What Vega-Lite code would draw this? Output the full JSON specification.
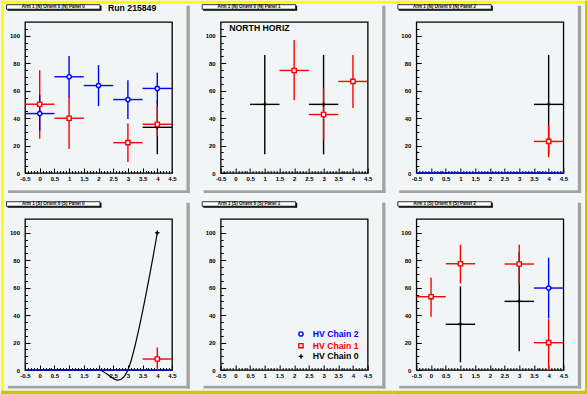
{
"$schema":"https://vega.github.io/schema/vega-lite/v6.json",
"background":"#f1f5f5",
"padding":0,
"autosize":{"type":"pad"},
"bounds":"flush",
"columns":3,
"spacing":{"row":46,"column":48.67},
"datasets":{
"pts":[
{"p":1,"c":0,"x":4,"y":33.3,"lo":13.6,"hi":53,"xl":3.5,"xh":4.5},
{"p":1,"c":1,"x":0,"y":50.1,"lo":25,"hi":74.9,"xl":-0.5,"xh":0.5},
{"p":1,"c":1,"x":1,"y":39.9,"lo":17.5,"hi":55.5,"xl":0.5,"xh":1.5},
{"p":1,"c":1,"x":3,"y":22.1,"lo":8,"hi":36,"xl":2.5,"xh":3.5},
{"p":1,"c":1,"x":4,"y":35.5,"lo":27,"hi":48.7,"xl":3.5,"xh":4.5},
{"p":1,"c":2,"x":0,"y":43.3,"lo":30.7,"hi":56.7,"xl":-0.5,"xh":0.5},
{"p":1,"c":2,"x":1,"y":70.1,"lo":55,"hi":85.2,"xl":0.5,"xh":1.5},
{"p":1,"c":2,"x":2,"y":63.7,"lo":48.7,"hi":78.6,"xl":1.5,"xh":2.5},
{"p":1,"c":2,"x":3,"y":53.5,"lo":39.4,"hi":67.6,"xl":2.5,"xh":3.5},
{"p":1,"c":2,"x":4,"y":61.6,"lo":50.6,"hi":73,"xl":3.5,"xh":4.5},
{"p":2,"c":0,"x":1,"y":50,"lo":13.6,"hi":86,"xl":0.5,"xh":1.5},
{"p":2,"c":0,"x":3,"y":50,"lo":13.6,"hi":86,"xl":2.5,"xh":3.5},
{"p":2,"c":1,"x":2,"y":74.7,"lo":53,"hi":96.8,"xl":1.5,"xh":2.5},
{"p":2,"c":1,"x":3,"y":42.6,"lo":23.8,"hi":61.6,"xl":2.5,"xh":3.5},
{"p":2,"c":1,"x":4,"y":66.7,"lo":47.4,"hi":85.9,"xl":3.5,"xh":4.5},
{"p":3,"c":0,"x":4,"y":50,"lo":13.6,"hi":86,"xl":3.5,"xh":4.5},
{"p":3,"c":1,"x":4,"y":23,"lo":11.4,"hi":35,"xl":3.5,"xh":4.5},
{"p":3,"c":2,"x":0,"y":0,"lo":0,"hi":0,"xl":-0.5,"xh":0.5},
{"p":3,"c":2,"x":1,"y":0,"lo":0,"hi":0,"xl":0.5,"xh":1.5},
{"p":3,"c":2,"x":2,"y":0,"lo":0,"hi":0,"xl":1.5,"xh":2.5},
{"p":3,"c":2,"x":3,"y":0,"lo":0,"hi":0,"xl":2.5,"xh":3.5},
{"p":3,"c":2,"x":4,"y":0,"lo":0,"hi":0,"xl":3.5,"xh":4.5},
{"p":4,"c":0,"x":4,"y":100,"lo":100,"hi":100,"xl":4,"xh":4},
{"p":4,"c":1,"x":4,"y":8,"lo":0,"hi":16.3,"xl":3.5,"xh":4.5},
{"p":4,"c":2,"x":0,"y":0,"lo":0,"hi":0,"xl":-0.5,"xh":0.5},
{"p":4,"c":2,"x":1,"y":0,"lo":0,"hi":0,"xl":0.5,"xh":1.5},
{"p":4,"c":2,"x":2,"y":0,"lo":0,"hi":0,"xl":1.5,"xh":2.5},
{"p":4,"c":2,"x":3,"y":0,"lo":0,"hi":0,"xl":2.5,"xh":3.5},
{"p":4,"c":2,"x":4,"y":0,"lo":0,"hi":0,"xl":3.5,"xh":4.5},
{"p":6,"c":0,"x":1,"y":33.3,"lo":5.6,"hi":61,"xl":0.5,"xh":1.5},
{"p":6,"c":0,"x":3,"y":50,"lo":13.6,"hi":86,"xl":2.5,"xh":3.5},
{"p":6,"c":1,"x":0,"y":53.4,"lo":38.8,"hi":67.2,"xl":-0.5,"xh":0.5},
{"p":6,"c":1,"x":1,"y":77.4,"lo":63.1,"hi":91.3,"xl":0.5,"xh":1.5},
{"p":6,"c":1,"x":3,"y":77.2,"lo":63.1,"hi":91.3,"xl":2.5,"xh":3.5},
{"p":6,"c":1,"x":4,"y":19.9,"lo":0,"hi":37.1,"xl":3.5,"xh":4.5},
{"p":6,"c":2,"x":4,"y":59.7,"lo":37.5,"hi":81.8,"xl":3.5,"xh":4.5}
],
"curve":[{"x":0,"y":0},{"x":1,"y":0},{"x":2,"y":0},{"x":3,"y":0},{"x":4,"y":100}]
},
"concat":[
{"width":147,"height":151,"layer":[
{"data":{"values":[{}]},"mark":{"type":"rect","color":"#a3a3a3"},"encoding":{"x":{"datum":4.993,"type":"quantitative","scale":{"domain":[-0.5,4.5],"nice":false,"zero":false},"axis":{"title":null,"domain":false,"grid":false,"tickCount":1000,"values":[-0.5,-0.4,-0.3,-0.2,-0.1,0,0.1,0.2,0.3,0.4,0.5,0.6,0.7,0.8,0.9,1,1.1,1.2,1.3,1.4,1.5,1.6,1.7,1.8,1.9,2,2.1,2.2,2.3,2.4,2.5,2.6,2.7,2.8,2.9,3,3.1,3.2,3.3,3.4,3.5,3.6,3.7,3.8,3.9,4,4.1,4.2,4.3,4.4,4.5],"labelExpr":"abs(datum.value*2-round(datum.value*2))<0.001 ? ''+datum.value : ''","tickSize":{"condition":{"test":"abs(datum.value*2-round(datum.value*2))<0.001","value":-5},"value":-2.5},"labelPadding":7.5,"labelOverlap":false,"labelFlush":false,"labelBound":false}},"x2":{"datum":5.105},"y":{"datum":121.87,"type":"quantitative","scale":{"domain":[0,110],"nice":false,"zero":false},"axis":{"title":null,"domain":false,"grid":false,"tickCount":1000,"values":[0,5,10,15,20,25,30,35,40,45,50,55,60,65,70,75,80,85,90,95,100,105],"labelExpr":"datum.value%20===0 ? ''+datum.value : ''","tickSize":{"condition":{"test":"datum.value%20===0","value":-5},"value":-2.5},"labelPadding":10.5,"labelOverlap":false,"labelFlush":false,"labelBound":false}},"y2":{"datum":-14.57}}},
{"data":{"values":[{}]},"mark":{"type":"rect","color":"#a3a3a3"},"encoding":{"x":{"datum":-1.078},"x2":{"datum":5.105},"y":{"datum":-12.53},"y2":{"datum":-14.57}}},
{"data":{"values":[{}]},"mark":{"type":"rect","color":"#ffff00"},"encoding":{"x":{"datum":-1.3163},"x2":{"datum":5.339},"y":{"datum":125.516},"y2":{"datum":123.331}}},
{"data":{"values":[{}]},"mark":{"type":"rect","color":"#ffff00"},"encoding":{"x":{"datum":-1.3163},"x2":{"datum":-1.2143},"y":{"datum":125.516},"y2":{"datum":-17.99}}},
{"data":{"values":[{}]},"mark":{"type":"rect","color":"#000000"},"encoding":{"x":{"datum":-1.095},"x2":{"datum":2.102},"y":{"datum":121.87},"y2":{"datum":118.23}}},
{"data":{"values":[{}]},"mark":{"type":"rect","fill":"#ffffff","stroke":"#000000","strokeWidth":0.8},"encoding":{"x":{"datum":-1.129},"x2":{"datum":2.051},"y":{"datum":122.6},"y2":{"datum":119.32}}},
{"data":{"values":[{}]},"mark":{"type":"text","fontSize":4.5,"fontWeight":"bold","font":"Liberation Sans","align":"center","baseline":"middle","color":"#000000"},"encoding":{"x":{"datum":0.461},"y":{"datum":120.96},"text":{"value":"Arm 1 (N) Orient 0 (N) Panel 0"}}},
{"data":{"name":"pts"},"transform":[{"filter":"datum.p===1"}],"mark":{"type":"rule","strokeWidth":1.4},"encoding":{"x":{"field":"xl","type":"quantitative"},"x2":{"field":"xh"},"y":{"field":"y","type":"quantitative"},"color":{"field":"c","type":"ordinal","scale":{"domain":[0,1,2],"range":["#000000","#ff0000","#0000ff"]},"legend":null}}},
{"data":{"name":"pts"},"transform":[{"filter":"datum.p===1"}],"mark":{"type":"rule","strokeWidth":1.4},"encoding":{"x":{"field":"x","type":"quantitative"},"y":{"field":"lo","type":"quantitative"},"y2":{"field":"hi"},"color":{"field":"c","type":"ordinal","scale":{"domain":[0,1,2],"range":["#000000","#ff0000","#0000ff"]},"legend":null}}},
{"data":{"name":"pts"},"transform":[{"filter":"datum.p===1 && datum.y>0"}],"mark":{"type":"point","fill":"#f1f5f5","strokeWidth":1.4,"size":18,"opacity":1},"encoding":{"x":{"field":"x","type":"quantitative"},"y":{"field":"y","type":"quantitative"},"stroke":{"field":"c","type":"ordinal","scale":{"domain":[0,1,2],"range":["#000000","#ff0000","#0000ff"]},"legend":null},"shape":{"field":"c","type":"ordinal","scale":{"domain":[0,1,2],"range":["M-1,0H1M0,-1V1","square","circle"]},"legend":null}}},
{"data":{"values":[{}]},"mark":{"type":"text","fontSize":8.7,"fontWeight":"bold","font":"Liberation Sans","align":"left","baseline":"middle","color":"#000000"},"encoding":{"x":{"datum":2.323},"y":{"datum":120.05},"text":{"value":"Run 215849"}}}
]},
{"width":147,"height":151,"layer":[
{"data":{"values":[{}]},"mark":{"type":"rect","color":"#a3a3a3"},"encoding":{"x":{"datum":4.993,"type":"quantitative","scale":{"domain":[-0.5,4.5],"nice":false,"zero":false},"axis":{"title":null,"domain":false,"grid":false,"tickCount":1000,"values":[-0.5,-0.4,-0.3,-0.2,-0.1,0,0.1,0.2,0.3,0.4,0.5,0.6,0.7,0.8,0.9,1,1.1,1.2,1.3,1.4,1.5,1.6,1.7,1.8,1.9,2,2.1,2.2,2.3,2.4,2.5,2.6,2.7,2.8,2.9,3,3.1,3.2,3.3,3.4,3.5,3.6,3.7,3.8,3.9,4,4.1,4.2,4.3,4.4,4.5],"labelExpr":"abs(datum.value*2-round(datum.value*2))<0.001 ? ''+datum.value : ''","tickSize":{"condition":{"test":"abs(datum.value*2-round(datum.value*2))<0.001","value":-5},"value":-2.5},"labelPadding":7.5,"labelOverlap":false,"labelFlush":false,"labelBound":false}},"x2":{"datum":5.105},"y":{"datum":121.87,"type":"quantitative","scale":{"domain":[0,110],"nice":false,"zero":false},"axis":{"title":null,"domain":false,"grid":false,"tickCount":1000,"values":[0,5,10,15,20,25,30,35,40,45,50,55,60,65,70,75,80,85,90,95,100,105],"labelExpr":"datum.value%20===0 ? ''+datum.value : ''","tickSize":{"condition":{"test":"datum.value%20===0","value":-5},"value":-2.5},"labelPadding":10.5,"labelOverlap":false,"labelFlush":false,"labelBound":false}},"y2":{"datum":-14.57}}},
{"data":{"values":[{}]},"mark":{"type":"rect","color":"#a3a3a3"},"encoding":{"x":{"datum":-1.078},"x2":{"datum":5.105},"y":{"datum":-12.53},"y2":{"datum":-14.57}}},
{"data":{"values":[{}]},"mark":{"type":"rect","color":"#ffff00"},"encoding":{"x":{"datum":-1.3163},"x2":{"datum":5.339},"y":{"datum":125.516},"y2":{"datum":123.331}}},
{"data":{"values":[{}]},"mark":{"type":"rect","color":"#000000"},"encoding":{"x":{"datum":-1.095},"x2":{"datum":2.102},"y":{"datum":121.87},"y2":{"datum":118.23}}},
{"data":{"values":[{}]},"mark":{"type":"rect","fill":"#ffffff","stroke":"#000000","strokeWidth":0.8},"encoding":{"x":{"datum":-1.129},"x2":{"datum":2.051},"y":{"datum":122.6},"y2":{"datum":119.32}}},
{"data":{"values":[{}]},"mark":{"type":"text","fontSize":4.5,"fontWeight":"bold","font":"Liberation Sans","align":"center","baseline":"middle","color":"#000000"},"encoding":{"x":{"datum":0.461},"y":{"datum":120.96},"text":{"value":"Arm 1 (N) Orient 0 (N) Panel 1"}}},
{"data":{"name":"pts"},"transform":[{"filter":"datum.p===2"}],"mark":{"type":"rule","strokeWidth":1.4},"encoding":{"x":{"field":"xl","type":"quantitative"},"x2":{"field":"xh"},"y":{"field":"y","type":"quantitative"},"color":{"field":"c","type":"ordinal","scale":{"domain":[0,1,2],"range":["#000000","#ff0000","#0000ff"]},"legend":null}}},
{"data":{"name":"pts"},"transform":[{"filter":"datum.p===2"}],"mark":{"type":"rule","strokeWidth":1.4},"encoding":{"x":{"field":"x","type":"quantitative"},"y":{"field":"lo","type":"quantitative"},"y2":{"field":"hi"},"color":{"field":"c","type":"ordinal","scale":{"domain":[0,1,2],"range":["#000000","#ff0000","#0000ff"]},"legend":null}}},
{"data":{"name":"pts"},"transform":[{"filter":"datum.p===2 && datum.y>0"}],"mark":{"type":"point","fill":"#f1f5f5","strokeWidth":1.4,"size":18,"opacity":1},"encoding":{"x":{"field":"x","type":"quantitative"},"y":{"field":"y","type":"quantitative"},"stroke":{"field":"c","type":"ordinal","scale":{"domain":[0,1,2],"range":["#000000","#ff0000","#0000ff"]},"legend":null},"shape":{"field":"c","type":"ordinal","scale":{"domain":[0,1,2],"range":["M-1,0H1M0,-1V1","square","circle"]},"legend":null}}},
{"data":{"values":[{}]},"mark":{"type":"text","fontSize":8.7,"fontWeight":"bold","font":"Liberation Sans","align":"left","baseline":"middle","color":"#000000"},"encoding":{"x":{"datum":-0.207},"y":{"datum":105.3},"text":{"value":"NORTH HORIZ"}}}
]},
{"width":147,"height":151,"layer":[
{"data":{"values":[{}]},"mark":{"type":"rect","color":"#a3a3a3"},"encoding":{"x":{"datum":4.993,"type":"quantitative","scale":{"domain":[-0.5,4.5],"nice":false,"zero":false},"axis":{"title":null,"domain":false,"grid":false,"tickCount":1000,"values":[-0.5,-0.4,-0.3,-0.2,-0.1,0,0.1,0.2,0.3,0.4,0.5,0.6,0.7,0.8,0.9,1,1.1,1.2,1.3,1.4,1.5,1.6,1.7,1.8,1.9,2,2.1,2.2,2.3,2.4,2.5,2.6,2.7,2.8,2.9,3,3.1,3.2,3.3,3.4,3.5,3.6,3.7,3.8,3.9,4,4.1,4.2,4.3,4.4,4.5],"labelExpr":"abs(datum.value*2-round(datum.value*2))<0.001 ? ''+datum.value : ''","tickSize":{"condition":{"test":"abs(datum.value*2-round(datum.value*2))<0.001","value":-5},"value":-2.5},"labelPadding":7.5,"labelOverlap":false,"labelFlush":false,"labelBound":false}},"x2":{"datum":5.105},"y":{"datum":121.87,"type":"quantitative","scale":{"domain":[0,110],"nice":false,"zero":false},"axis":{"title":null,"domain":false,"grid":false,"tickCount":1000,"values":[0,5,10,15,20,25,30,35,40,45,50,55,60,65,70,75,80,85,90,95,100,105],"labelExpr":"datum.value%20===0 ? ''+datum.value : ''","tickSize":{"condition":{"test":"datum.value%20===0","value":-5},"value":-2.5},"labelPadding":10.5,"labelOverlap":false,"labelFlush":false,"labelBound":false}},"y2":{"datum":-14.57}}},
{"data":{"values":[{}]},"mark":{"type":"rect","color":"#a3a3a3"},"encoding":{"x":{"datum":-1.078},"x2":{"datum":5.105},"y":{"datum":-12.53},"y2":{"datum":-14.57}}},
{"data":{"values":[{}]},"mark":{"type":"rect","color":"#ffff00"},"encoding":{"x":{"datum":-1.3163},"x2":{"datum":5.339},"y":{"datum":125.516},"y2":{"datum":123.331}}},
{"data":{"values":[{}]},"mark":{"type":"rect","color":"#c8c800"},"encoding":{"x":{"datum":5.237},"x2":{"datum":5.339},"y":{"datum":125.516},"y2":{"datum":-17.99}}},
{"data":{"values":[{}]},"mark":{"type":"rect","color":"#000000"},"encoding":{"x":{"datum":-1.095},"x2":{"datum":2.102},"y":{"datum":121.87},"y2":{"datum":118.23}}},
{"data":{"values":[{}]},"mark":{"type":"rect","fill":"#ffffff","stroke":"#000000","strokeWidth":0.8},"encoding":{"x":{"datum":-1.129},"x2":{"datum":2.051},"y":{"datum":122.6},"y2":{"datum":119.32}}},
{"data":{"values":[{}]},"mark":{"type":"text","fontSize":4.5,"fontWeight":"bold","font":"Liberation Sans","align":"center","baseline":"middle","color":"#000000"},"encoding":{"x":{"datum":0.461},"y":{"datum":120.96},"text":{"value":"Arm 1 (N) Orient 0 (N) Panel 2"}}},
{"data":{"name":"pts"},"transform":[{"filter":"datum.p===3"}],"mark":{"type":"rule","strokeWidth":1.4},"encoding":{"x":{"field":"xl","type":"quantitative"},"x2":{"field":"xh"},"y":{"field":"y","type":"quantitative"},"color":{"field":"c","type":"ordinal","scale":{"domain":[0,1,2],"range":["#000000","#ff0000","#0000ff"]},"legend":null}}},
{"data":{"name":"pts"},"transform":[{"filter":"datum.p===3"}],"mark":{"type":"rule","strokeWidth":1.4},"encoding":{"x":{"field":"x","type":"quantitative"},"y":{"field":"lo","type":"quantitative"},"y2":{"field":"hi"},"color":{"field":"c","type":"ordinal","scale":{"domain":[0,1,2],"range":["#000000","#ff0000","#0000ff"]},"legend":null}}},
{"data":{"name":"pts"},"transform":[{"filter":"datum.p===3 && datum.y>0"}],"mark":{"type":"point","fill":"#f1f5f5","strokeWidth":1.4,"size":18,"opacity":1},"encoding":{"x":{"field":"x","type":"quantitative"},"y":{"field":"y","type":"quantitative"},"stroke":{"field":"c","type":"ordinal","scale":{"domain":[0,1,2],"range":["#000000","#ff0000","#0000ff"]},"legend":null},"shape":{"field":"c","type":"ordinal","scale":{"domain":[0,1,2],"range":["M-1,0H1M0,-1V1","square","circle"]},"legend":null}}}
]},
{"width":147,"height":151,"layer":[
{"data":{"values":[{}]},"mark":{"type":"rect","color":"#a3a3a3"},"encoding":{"x":{"datum":4.993,"type":"quantitative","scale":{"domain":[-0.5,4.5],"nice":false,"zero":false},"axis":{"title":null,"domain":false,"grid":false,"tickCount":1000,"values":[-0.5,-0.4,-0.3,-0.2,-0.1,0,0.1,0.2,0.3,0.4,0.5,0.6,0.7,0.8,0.9,1,1.1,1.2,1.3,1.4,1.5,1.6,1.7,1.8,1.9,2,2.1,2.2,2.3,2.4,2.5,2.6,2.7,2.8,2.9,3,3.1,3.2,3.3,3.4,3.5,3.6,3.7,3.8,3.9,4,4.1,4.2,4.3,4.4,4.5],"labelExpr":"abs(datum.value*2-round(datum.value*2))<0.001 ? ''+datum.value : ''","tickSize":{"condition":{"test":"abs(datum.value*2-round(datum.value*2))<0.001","value":-5},"value":-2.5},"labelPadding":7.5,"labelOverlap":false,"labelFlush":false,"labelBound":false}},"x2":{"datum":5.105},"y":{"datum":121.87,"type":"quantitative","scale":{"domain":[0,110],"nice":false,"zero":false},"axis":{"title":null,"domain":false,"grid":false,"tickCount":1000,"values":[0,5,10,15,20,25,30,35,40,45,50,55,60,65,70,75,80,85,90,95,100,105],"labelExpr":"datum.value%20===0 ? ''+datum.value : ''","tickSize":{"condition":{"test":"datum.value%20===0","value":-5},"value":-2.5},"labelPadding":10.5,"labelOverlap":false,"labelFlush":false,"labelBound":false}},"y2":{"datum":-13.48}}},
{"data":{"values":[{}]},"mark":{"type":"rect","color":"#a3a3a3"},"encoding":{"x":{"datum":-1.078},"x2":{"datum":5.105},"y":{"datum":-11.44},"y2":{"datum":-13.48}}},
{"data":{"values":[{}]},"mark":{"type":"rect","color":"#ffff00"},"encoding":{"x":{"datum":-1.3163},"x2":{"datum":-1.2143},"y":{"datum":125.516},"y2":{"datum":-17.99}}},
{"data":{"values":[{}]},"mark":{"type":"rect","color":"#c8c800"},"encoding":{"x":{"datum":-1.3163},"x2":{"datum":5.339},"y":{"datum":-15.08},"y2":{"datum":-17.99}}},
{"data":{"values":[{}]},"mark":{"type":"rect","color":"#000000"},"encoding":{"x":{"datum":-1.095},"x2":{"datum":2.102},"y":{"datum":121.87},"y2":{"datum":118.23}}},
{"data":{"values":[{}]},"mark":{"type":"rect","fill":"#ffffff","stroke":"#000000","strokeWidth":0.8},"encoding":{"x":{"datum":-1.129},"x2":{"datum":2.051},"y":{"datum":122.6},"y2":{"datum":119.32}}},
{"data":{"values":[{}]},"mark":{"type":"text","fontSize":4.5,"fontWeight":"bold","font":"Liberation Sans","align":"center","baseline":"middle","color":"#000000"},"encoding":{"x":{"datum":0.461},"y":{"datum":120.96},"text":{"value":"Arm 1 (S) Orient 6 (S) Panel 0"}}},
{"data":{"name":"curve"},"mark":{"type":"line","interpolate":"cardinal","color":"#000000","strokeWidth":1.2},"encoding":{"x":{"field":"x","type":"quantitative"},"y":{"field":"y","type":"quantitative"}}},
{"data":{"name":"pts"},"transform":[{"filter":"datum.p===4"}],"mark":{"type":"rule","strokeWidth":1.4},"encoding":{"x":{"field":"xl","type":"quantitative"},"x2":{"field":"xh"},"y":{"field":"y","type":"quantitative"},"color":{"field":"c","type":"ordinal","scale":{"domain":[0,1,2],"range":["#000000","#ff0000","#0000ff"]},"legend":null}}},
{"data":{"name":"pts"},"transform":[{"filter":"datum.p===4"}],"mark":{"type":"rule","strokeWidth":1.4},"encoding":{"x":{"field":"x","type":"quantitative"},"y":{"field":"lo","type":"quantitative"},"y2":{"field":"hi"},"color":{"field":"c","type":"ordinal","scale":{"domain":[0,1,2],"range":["#000000","#ff0000","#0000ff"]},"legend":null}}},
{"data":{"name":"pts"},"transform":[{"filter":"datum.p===4 && datum.y>0"}],"mark":{"type":"point","fill":"#f1f5f5","strokeWidth":1.4,"size":18,"opacity":1},"encoding":{"x":{"field":"x","type":"quantitative"},"y":{"field":"y","type":"quantitative"},"stroke":{"field":"c","type":"ordinal","scale":{"domain":[0,1,2],"range":["#000000","#ff0000","#0000ff"]},"legend":null},"shape":{"field":"c","type":"ordinal","scale":{"domain":[0,1,2],"range":["M-1,0H1M0,-1V1","square","circle"]},"legend":null}}}
]},
{"width":147,"height":151,"layer":[
{"data":{"values":[{}]},"mark":{"type":"rect","color":"#a3a3a3"},"encoding":{"x":{"datum":4.993,"type":"quantitative","scale":{"domain":[-0.5,4.5],"nice":false,"zero":false},"axis":{"title":null,"domain":false,"grid":false,"tickCount":1000,"values":[-0.5,-0.4,-0.3,-0.2,-0.1,0,0.1,0.2,0.3,0.4,0.5,0.6,0.7,0.8,0.9,1,1.1,1.2,1.3,1.4,1.5,1.6,1.7,1.8,1.9,2,2.1,2.2,2.3,2.4,2.5,2.6,2.7,2.8,2.9,3,3.1,3.2,3.3,3.4,3.5,3.6,3.7,3.8,3.9,4,4.1,4.2,4.3,4.4,4.5],"labelExpr":"abs(datum.value*2-round(datum.value*2))<0.001 ? ''+datum.value : ''","tickSize":{"condition":{"test":"abs(datum.value*2-round(datum.value*2))<0.001","value":-5},"value":-2.5},"labelPadding":7.5,"labelOverlap":false,"labelFlush":false,"labelBound":false}},"x2":{"datum":5.105},"y":{"datum":121.87,"type":"quantitative","scale":{"domain":[0,110],"nice":false,"zero":false},"axis":{"title":null,"domain":false,"grid":false,"tickCount":1000,"values":[0,5,10,15,20,25,30,35,40,45,50,55,60,65,70,75,80,85,90,95,100,105],"labelExpr":"datum.value%20===0 ? ''+datum.value : ''","tickSize":{"condition":{"test":"datum.value%20===0","value":-5},"value":-2.5},"labelPadding":10.5,"labelOverlap":false,"labelFlush":false,"labelBound":false}},"y2":{"datum":-13.48}}},
{"data":{"values":[{}]},"mark":{"type":"rect","color":"#a3a3a3"},"encoding":{"x":{"datum":-1.078},"x2":{"datum":5.105},"y":{"datum":-11.44},"y2":{"datum":-13.48}}},
{"data":{"values":[{}]},"mark":{"type":"rect","color":"#c8c800"},"encoding":{"x":{"datum":-1.3163},"x2":{"datum":5.339},"y":{"datum":-15.08},"y2":{"datum":-17.99}}},
{"data":{"values":[{}]},"mark":{"type":"rect","color":"#000000"},"encoding":{"x":{"datum":-1.095},"x2":{"datum":2.102},"y":{"datum":121.87},"y2":{"datum":118.23}}},
{"data":{"values":[{}]},"mark":{"type":"rect","fill":"#ffffff","stroke":"#000000","strokeWidth":0.8},"encoding":{"x":{"datum":-1.129},"x2":{"datum":2.051},"y":{"datum":122.6},"y2":{"datum":119.32}}},
{"data":{"values":[{}]},"mark":{"type":"text","fontSize":4.5,"fontWeight":"bold","font":"Liberation Sans","align":"center","baseline":"middle","color":"#000000"},"encoding":{"x":{"datum":0.461},"y":{"datum":120.96},"text":{"value":"Arm 1 (S) Orient 6 (S) Panel 1"}}},
{"data":{"values":[{}]},"mark":{"type":"point","shape":"circle","size":18,"stroke":"#0000ff","fill":"#f1f5f5","strokeWidth":1.4,"opacity":1},"encoding":{"x":{"datum":2.231},"y":{"datum":26.23}}},
{"data":{"values":[{}]},"mark":{"type":"point","shape":"square","size":18,"stroke":"#ff0000","fill":"#f1f5f5","strokeWidth":1.4,"opacity":1},"encoding":{"x":{"datum":2.231},"y":{"datum":17.7}}},
{"data":{"values":[{}]},"mark":{"type":"point","shape":"M-1,0H1M0,-1V1","size":20,"stroke":"#000000","strokeWidth":1.4,"opacity":1},"encoding":{"x":{"datum":2.231},"y":{"datum":9.9}}},
{"data":{"values":[{}]},"mark":{"type":"text","fontSize":8.7,"fontWeight":"bold","font":"Liberation Sans","align":"left","baseline":"middle","color":"#0000ff"},"encoding":{"x":{"datum":2.629},"y":{"datum":26.23},"text":{"value":"HV Chain 2"}}},
{"data":{"values":[{}]},"mark":{"type":"text","fontSize":8.7,"fontWeight":"bold","font":"Liberation Sans","align":"left","baseline":"middle","color":"#ff0000"},"encoding":{"x":{"datum":2.629},"y":{"datum":17.7},"text":{"value":"HV Chain 1"}}},
{"data":{"values":[{}]},"mark":{"type":"text","fontSize":8.7,"fontWeight":"bold","font":"Liberation Sans","align":"left","baseline":"middle","color":"#000000"},"encoding":{"x":{"datum":2.629},"y":{"datum":9.9},"text":{"value":"HV Chain 0"}}}
]},
{"width":147,"height":151,"layer":[
{"data":{"values":[{}]},"mark":{"type":"rect","color":"#a3a3a3"},"encoding":{"x":{"datum":4.993,"type":"quantitative","scale":{"domain":[-0.5,4.5],"nice":false,"zero":false},"axis":{"title":null,"domain":false,"grid":false,"tickCount":1000,"values":[-0.5,-0.4,-0.3,-0.2,-0.1,0,0.1,0.2,0.3,0.4,0.5,0.6,0.7,0.8,0.9,1,1.1,1.2,1.3,1.4,1.5,1.6,1.7,1.8,1.9,2,2.1,2.2,2.3,2.4,2.5,2.6,2.7,2.8,2.9,3,3.1,3.2,3.3,3.4,3.5,3.6,3.7,3.8,3.9,4,4.1,4.2,4.3,4.4,4.5],"labelExpr":"abs(datum.value*2-round(datum.value*2))<0.001 ? ''+datum.value : ''","tickSize":{"condition":{"test":"abs(datum.value*2-round(datum.value*2))<0.001","value":-5},"value":-2.5},"labelPadding":7.5,"labelOverlap":false,"labelFlush":false,"labelBound":false}},"x2":{"datum":5.105},"y":{"datum":121.87,"type":"quantitative","scale":{"domain":[0,110],"nice":false,"zero":false},"axis":{"title":null,"domain":false,"grid":false,"tickCount":1000,"values":[0,5,10,15,20,25,30,35,40,45,50,55,60,65,70,75,80,85,90,95,100,105],"labelExpr":"datum.value%20===0 ? ''+datum.value : ''","tickSize":{"condition":{"test":"datum.value%20===0","value":-5},"value":-2.5},"labelPadding":10.5,"labelOverlap":false,"labelFlush":false,"labelBound":false}},"y2":{"datum":-13.48}}},
{"data":{"values":[{}]},"mark":{"type":"rect","color":"#a3a3a3"},"encoding":{"x":{"datum":-1.078},"x2":{"datum":5.105},"y":{"datum":-11.44},"y2":{"datum":-13.48}}},
{"data":{"values":[{}]},"mark":{"type":"rect","color":"#c8c800"},"encoding":{"x":{"datum":-1.3163},"x2":{"datum":5.339},"y":{"datum":-15.08},"y2":{"datum":-17.99}}},
{"data":{"values":[{}]},"mark":{"type":"rect","color":"#c8c800"},"encoding":{"x":{"datum":5.237},"x2":{"datum":5.339},"y":{"datum":125.516},"y2":{"datum":-17.99}}},
{"data":{"values":[{}]},"mark":{"type":"rect","color":"#000000"},"encoding":{"x":{"datum":-1.095},"x2":{"datum":2.102},"y":{"datum":121.87},"y2":{"datum":118.23}}},
{"data":{"values":[{}]},"mark":{"type":"rect","fill":"#ffffff","stroke":"#000000","strokeWidth":0.8},"encoding":{"x":{"datum":-1.129},"x2":{"datum":2.051},"y":{"datum":122.6},"y2":{"datum":119.32}}},
{"data":{"values":[{}]},"mark":{"type":"text","fontSize":4.5,"fontWeight":"bold","font":"Liberation Sans","align":"center","baseline":"middle","color":"#000000"},"encoding":{"x":{"datum":0.461},"y":{"datum":120.96},"text":{"value":"Arm 1 (S) Orient 6 (S) Panel 2"}}},
{"data":{"name":"pts"},"transform":[{"filter":"datum.p===6"}],"mark":{"type":"rule","strokeWidth":1.4},"encoding":{"x":{"field":"xl","type":"quantitative"},"x2":{"field":"xh"},"y":{"field":"y","type":"quantitative"},"color":{"field":"c","type":"ordinal","scale":{"domain":[0,1,2],"range":["#000000","#ff0000","#0000ff"]},"legend":null}}},
{"data":{"name":"pts"},"transform":[{"filter":"datum.p===6"}],"mark":{"type":"rule","strokeWidth":1.4},"encoding":{"x":{"field":"x","type":"quantitative"},"y":{"field":"lo","type":"quantitative"},"y2":{"field":"hi"},"color":{"field":"c","type":"ordinal","scale":{"domain":[0,1,2],"range":["#000000","#ff0000","#0000ff"]},"legend":null}}},
{"data":{"name":"pts"},"transform":[{"filter":"datum.p===6 && datum.y>0"}],"mark":{"type":"point","fill":"#f1f5f5","strokeWidth":1.4,"size":18,"opacity":1},"encoding":{"x":{"field":"x","type":"quantitative"},"y":{"field":"y","type":"quantitative"},"stroke":{"field":"c","type":"ordinal","scale":{"domain":[0,1,2],"range":["#000000","#ff0000","#0000ff"]},"legend":null},"shape":{"field":"c","type":"ordinal","scale":{"domain":[0,1,2],"range":["M-1,0H1M0,-1V1","square","circle"]},"legend":null}}}
]}
],
"config":{"view":{"stroke":"#000000","strokeWidth":1.3},"axis":{"labelFont":"Liberation Sans","labelFontSize":6,"labelFontWeight":"bold","labelColor":"#000000","tickColor":"#000000","tickWidth":1,"labelOverlap":false}}
}
